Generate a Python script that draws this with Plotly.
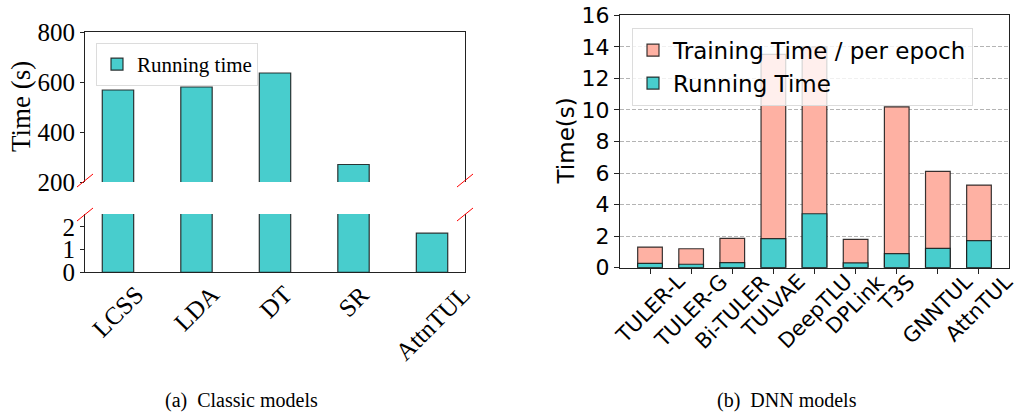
import plotly.graph_objects as go

# ---------------- data ----------------
classic_models = ["LCSS", "LDA", "DT", "SR", "AttnTUL"]
classic_running = [568, 580, 636, 270, 1.72]

dnn_models = ["TULER-L", "TULER-G", "Bi-TULER", "TULVAE", "DeepTLU",
              "DPLink", "T3S", "GNNTUL", "AttnTUL"]
dnn_training = [1.31, 1.20, 1.86, 13.52, 13.99, 1.80, 10.20, 6.11, 5.24]
dnn_running = [0.28, 0.22, 0.32, 1.84, 3.42, 0.30, 0.89, 1.23, 1.71]

top_ticks = [200, 400, 600, 800]
bottom_ticks = [0, 1, 2]
dnn_ticks = [0, 2, 4, 6, 8, 10, 12, 14, 16]

# ---------------- style ----------------
W, H = 1016, 413
TEAL = "#48CDCD"
PINK = "#FEB1A3"
EDGE = "rgba(20,20,20,0.85)"
LINE = "#222222"
SERIF = "Liberation Serif"
SANS = "DejaVu Sans"


def px(x):
    return x / W


def py(y):
    return 1 - y / H


fig = go.Figure()

# left chart: broken-axis (two panels)
fig.add_trace(go.Bar(x=classic_models, y=classic_running, name="Running time",
                     marker=dict(color=TEAL, line=dict(color=EDGE, width=1.2)),
                     width=0.4, xaxis="x", yaxis="y", legend="legend"))
fig.add_trace(go.Bar(x=classic_models, y=classic_running, name="Running time",
                     marker=dict(color=TEAL, line=dict(color=EDGE, width=1.2)),
                     width=0.4, xaxis="x2", yaxis="y2", showlegend=False))

# right chart
fig.add_trace(go.Bar(x=dnn_models, y=dnn_training, name="Training Time / per epoch",
                     marker=dict(color=PINK, line=dict(color=EDGE, width=1.2)),
                     width=0.6, xaxis="x3", yaxis="y3", legend="legend2"))
fig.add_trace(go.Bar(x=dnn_models, y=dnn_running, name="Running Time",
                     marker=dict(color=TEAL, line=dict(color=EDGE, width=1.2)),
                     width=0.6, xaxis="x3", yaxis="y3", legend="legend2"))

L_X0, L_X1 = 85, 465
TOP_Y0, TOP_Y1 = 32, 182
BOT_Y0, BOT_Y1 = 214, 272.3
R_X0, R_X1 = 620, 1009
R_Y0, R_Y1 = 15.3, 267.7

serif_tick = dict(family=SERIF, size=25, color="black")
sans_tick = dict(family=SANS, size=22, color="black")

fig.update_layout(
    width=W, height=H, autosize=False,
    margin=dict(l=0, r=0, t=0, b=0, pad=0, autoexpand=False),
    paper_bgcolor="white", plot_bgcolor="white",
    barmode="overlay",
    xaxis=dict(domain=[px(L_X0), px(L_X1)], anchor="y", type="category",
               range=[-0.42, 4.42], side="top", showline=True, linecolor=LINE,
               linewidth=1, showticklabels=False, ticks="", showgrid=False,
               zeroline=False, automargin=False),
    yaxis=dict(domain=[py(TOP_Y1), py(TOP_Y0)], anchor="x", range=[200, 800],
               tickvals=top_ticks, ticks="outside", ticklen=4, tickcolor=LINE,
               showline=True, mirror=True, linecolor=LINE, linewidth=1,
               showgrid=False, zeroline=False, tickfont=serif_tick, automargin=False),
    xaxis2=dict(domain=[px(L_X0), px(L_X1)], anchor="y2", type="category",
                range=[-0.42, 4.42], showline=True, linecolor=LINE, linewidth=1,
                showticklabels=False, ticks="", showgrid=False, zeroline=False,
                automargin=False),
    yaxis2=dict(domain=[py(BOT_Y1), py(BOT_Y0)], anchor="x2", range=[0, 2.56],
                tickvals=bottom_ticks, ticks="outside", ticklen=4, tickcolor=LINE,
                showline=True, mirror=True, linecolor=LINE, linewidth=1,
                showgrid=False, zeroline=False, tickfont=serif_tick, automargin=False),
    xaxis3=dict(domain=[px(R_X0), px(R_X1)], anchor="y3", type="category",
                range=[-0.73, 8.73], showline=True, mirror=True, linecolor=LINE,
                linewidth=1, ticks="outside", ticklen=5, tickcolor=LINE,
                showticklabels=False, showgrid=False, zeroline=False, automargin=False),
    yaxis3=dict(domain=[py(R_Y1), py(R_Y0)], anchor="x3", range=[0, 16],
                tickvals=dnn_ticks, ticks="outside", ticklen=5, tickcolor=LINE,
                showline=True, mirror=True, linecolor=LINE, linewidth=1,
                showgrid=True, gridcolor="#b4b4b4", griddash="4px,2px", gridwidth=1,
                zeroline=False, tickfont=sans_tick, automargin=False),
    legend=dict(x=px(96), y=py(43), xanchor="left", yanchor="top",
                bgcolor="rgba(255,255,255,0.8)", bordercolor="#dcdcdc",
                borderwidth=1, font=dict(family=SERIF, size=21, color="black")),
    legend2=dict(x=px(632), y=py(27.7), xanchor="left", yanchor="top",
                 bgcolor="rgba(255,255,255,0.8)", bordercolor="#dcdcdc",
                 borderwidth=1, tracegroupgap=0,
                 font=dict(family=SANS, size=23, color="black")),
)

annotations = []
# rotated category labels (centered under ticks like matplotlib rotation=45)
for c in classic_models:
    annotations.append(dict(x=c, y=py(278), xref="x2", yref="paper", text=c,
                            textangle=-45, xanchor="center", yanchor="top",
                            showarrow=False, font=dict(family=SERIF, size=25, color="black")))
for c in dnn_models:
    annotations.append(dict(x=c, y=py(267), xref="x3", yref="paper", text=c,
                            textangle=-45, xanchor="center", yanchor="top",
                            showarrow=False, font=dict(family=SANS, size=21, color="black")))
# axis titles
annotations.append(dict(x=px(21), y=py(107), xref="paper", yref="paper",
                        text="Time (s)", textangle=-90, showarrow=False,
                        xanchor="center", yanchor="middle",
                        font=dict(family=SERIF, size=27, color="black")))
annotations.append(dict(x=px(565), y=py(141.5), xref="paper", yref="paper",
                        text="Time(s)", textangle=-90, showarrow=False,
                        xanchor="center", yanchor="middle",
                        font=dict(family=SANS, size=23, color="black")))
# captions
annotations.append(dict(x=px(241.5), y=py(400), xref="paper", yref="paper",
                        text="(a)  Classic models", showarrow=False,
                        xanchor="center", yanchor="middle",
                        font=dict(family=SERIF, size=20, color="black")))
annotations.append(dict(x=px(786.5), y=py(400), xref="paper", yref="paper",
                        text="(b)  DNN models", showarrow=False,
                        xanchor="center", yanchor="middle",
                        font=dict(family=SERIF, size=20, color="black")))
fig.update_layout(annotations=annotations)

# break marks
shapes = []
for (x0, y0, x1, y1) in [(77, 187, 93, 174), (457, 187, 473, 174),
                         (77, 221, 93, 208), (457, 221, 473, 208)]:
    shapes.append(dict(type="line", xref="paper", yref="paper",
                       x0=px(x0), y0=py(y0), x1=px(x1), y1=py(y1),
                       line=dict(color="red", width=1)))
fig.update_layout(shapes=shapes)

fig.write_html("out.html",
               config={"displayModeBar": False},
               post_script="document.body.style.margin='0px';"
                           "document.body.style.overflow='hidden';")
